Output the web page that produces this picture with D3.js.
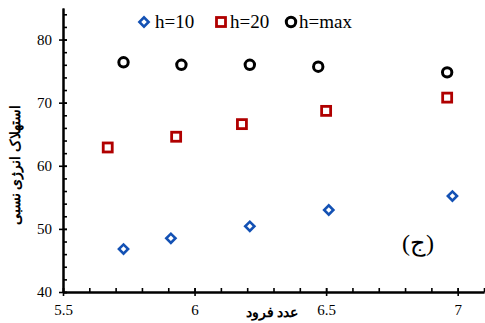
<!DOCTYPE html>
<html>
<head>
<meta charset="utf-8">
<script src="https://cdn.jsdelivr.net/npm/d3@7"></script>
<style>
  body { margin: 0; background: #fff; }
  svg text { font-family: "Liberation Serif", "Times New Roman", serif; }
</style>
</head>
<body>
<svg id="chart" width="485" height="323"></svg>
<script>
// values
var seriesNames = ["h=10", "h=20", "h=max"];
var h10X = [5.73, 5.91, 6.21, 6.51, 6.98];
var h10Y = [46.8, 48.5, 50.4, 53.0, 55.2];
var h20X = [5.67, 5.93, 6.18, 6.50, 6.96];
var h20Y = [62.9, 64.6, 66.6, 68.7, 70.8];
var hmaxX = [5.73, 5.95, 6.21, 6.47, 6.96];
var hmaxY = [76.4, 76.0, 76.0, 75.7, 74.8];
var xTicks = [5.5, 6, 6.5, 7];
var yTicks = [40, 50, 60, 70, 80];

var svg = d3.select("#chart"),
    margin = {top: 8, right: 1, bottom: 31, left: 63},
    width = 485, height = 323,
    serif = "'Liberation Serif', 'Times New Roman', serif";

var x = d3.scaleLinear().domain([5.5, 7.1]).range([margin.left, width - margin.right]);
var y = d3.scaleLinear().domain([40, 85]).range([height - margin.bottom, margin.top]);

// x axis: minor ticks inside, major ticks crossing
var gx = svg.append("g").attr("transform", "translate(0," + (height - margin.bottom) + ")");
gx.append("g").attr("class", "minor")
    .call(d3.axisBottom(x).tickValues(d3.range(5.5, 7.1001, 0.1)).tickSizeOuter(0).tickFormat(""));
gx.select(".minor").selectAll(".tick line").attr("y1", -4).attr("y2", 0);
gx.append("g").attr("class", "major")
    .call(d3.axisBottom(x).tickValues(xTicks).tickSizeOuter(0).tickFormat(function(d){ return d; }));
gx.select(".major").selectAll(".tick line").attr("y1", -4).attr("y2", 4);
gx.selectAll("path.domain").attr("stroke-width", 2).attr("stroke", "#000");
gx.selectAll(".tick line").attr("stroke-width", 1.6).attr("stroke", "#000");
gx.selectAll(".tick text").attr("font-size", 15).attr("y", 12).attr("dy", "0.71em")
    .style("font-family", serif).attr("fill", "#000");

// y axis
var gy = svg.append("g").attr("transform", "translate(" + margin.left + ",0)");
gy.append("g").attr("class", "minor")
    .call(d3.axisLeft(y).tickValues(d3.range(40, 85.01, 2)).tickSizeOuter(0).tickFormat(""));
gy.select(".minor").selectAll(".tick line").attr("x1", 0).attr("x2", 4);
gy.append("g").attr("class", "major")
    .call(d3.axisLeft(y).tickValues(yTicks).tickSizeOuter(0).tickFormat(function(d){ return d; }));
gy.select(".major").selectAll(".tick line").attr("x1", -4).attr("x2", 4);
gy.selectAll("path.domain").attr("stroke-width", 2).attr("stroke", "#000");
gy.selectAll(".tick line").attr("stroke-width", 1.6).attr("stroke", "#000");
gy.selectAll(".tick text").attr("font-size", 15).attr("x", -11)
    .style("font-family", serif).attr("fill", "#000");

// axis titles
svg.append("text")
    .attr("transform", "translate(20,165) rotate(-90)")
    .attr("text-anchor", "middle")
    .attr("font-size", 14).attr("font-weight", "bold")
    .attr("direction", "rtl")
    .text("استهلاک انرژی نسبی");

svg.append("text")
    .attr("x", 272).attr("y", 317)
    .attr("text-anchor", "middle")
    .attr("font-size", 14).attr("font-weight", "bold")
    .attr("direction", "rtl")
    .text("عدد فرود");

svg.append("text")
    .attr("x", 418).attr("y", 251)
    .attr("text-anchor", "middle")
    .attr("font-size", 24)
    .attr("direction", "rtl")
    .text("(ج)");

// markers
var diamond = d3.symbol().type(d3.symbolSquare).size(42);
svg.append("g").selectAll("path").data(h10X).enter().append("path")
    .attr("d", diamond)
    .attr("transform", function(d, i){ return "translate(" + x(d) + "," + y(h10Y[i]) + ") rotate(45)"; })
    .attr("fill", "#fff").attr("stroke", "#1351b4").attr("stroke-width", 2.6);

svg.append("g").selectAll("rect").data(h20X).enter().append("rect")
    .attr("x", function(d){ return x(d) - 4.5; })
    .attr("y", function(d, i){ return y(h20Y[i]) - 4.5; })
    .attr("width", 9).attr("height", 9)
    .attr("fill", "#fff").attr("stroke", "#b00000").attr("stroke-width", 2.8);

svg.append("g").selectAll("circle").data(hmaxX).enter().append("circle")
    .attr("cx", function(d){ return x(d); })
    .attr("cy", function(d, i){ return y(hmaxY[i]); })
    .attr("r", 4.7)
    .attr("fill", "#fff").attr("stroke", "#000").attr("stroke-width", 3);

// legend
var legend = svg.append("g").attr("transform", "translate(0,22)");
var lx = [144, 221, 291];
var tx = [155, 230, 299];
legend.append("path").attr("d", diamond).attr("transform", "translate(" + lx[0] + ",0) rotate(45)")
    .attr("fill", "#fff").attr("stroke", "#1351b4").attr("stroke-width", 2.6);
legend.append("rect").attr("x", lx[1] - 4.5).attr("y", -4.5).attr("width", 9).attr("height", 9)
    .attr("fill", "#fff").attr("stroke", "#b00000").attr("stroke-width", 2.8);
legend.append("circle").attr("cx", lx[2]).attr("cy", 0).attr("r", 4.7)
    .attr("fill", "#fff").attr("stroke", "#000").attr("stroke-width", 3);
legend.selectAll("text").data(seriesNames).enter().append("text")
    .attr("x", function(d, i){ return tx[i]; })
    .attr("y", 6)
    .attr("font-size", 19)
    .style("font-family", serif)
    .text(function(d){ return d; });
</script>
</body>
</html>
